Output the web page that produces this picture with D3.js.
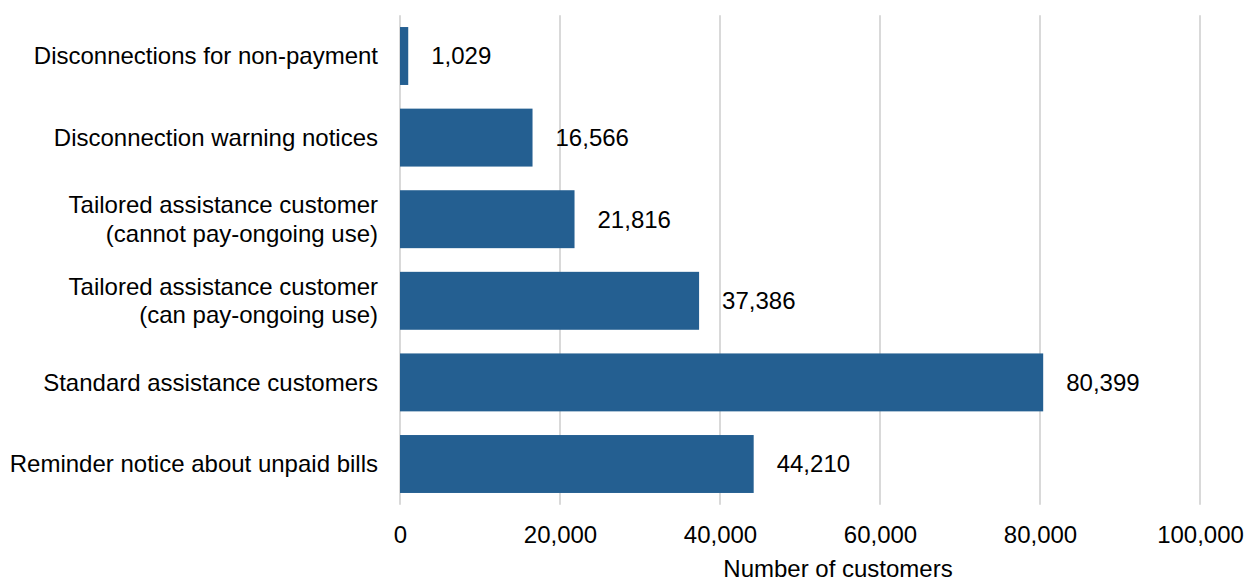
<!DOCTYPE html>
<html>
<head>
<meta charset="utf-8">
<script src="https://cdn.jsdelivr.net/npm/d3@7"></script>
<style>
  html, body { margin: 0; padding: 0; background: #fff; }
  svg text { font-family: "Liberation Sans", Arial, sans-serif; fill: #000; }
</style>
</head>
<body>
<svg id="chart" width="1246" height="581"></svg>
<script>
const categories = [
  ["Disconnections for non-payment"],
  ["Disconnection warning notices"],
  ["Tailored assistance customer", "(cannot pay-ongoing use)"],
  ["Tailored assistance customer", "(can pay-ongoing use)"],
  ["Standard assistance customers"],
  ["Reminder notice about unpaid bills"]
];
const values = [1029, 16566, 21816, 37386, 80399, 44210];
const xTicks = [0, 20000, 40000, 60000, 80000, 100000];
const xTitle = "Number of customers";

(function () {
const svg = d3.select("#chart");
const pLeft = 400, pRight = 1200, pTop = 15.2, pBottom = 504.8;
const fs = 24;

const x = d3.scaleLinear().domain([0, 100000]).range([pLeft, pRight]);
const y = d3.scaleBand().domain(d3.range(categories.length)).range([pTop, pBottom]).paddingInner(0.29).paddingOuter(0.145);

// gridlines
svg.append("g").selectAll("line").data(xTicks).join("line")
  .attr("x1", d => x(d)).attr("x2", d => x(d))
  .attr("y1", pTop).attr("y2", pBottom)
  .attr("stroke", "#d9d9d9").attr("stroke-width", 2);

// bars
svg.append("g").selectAll("rect").data(values).join("rect")
  .attr("x", x(0)).attr("y", (d, i) => y(i))
  .attr("width", d => x(d) - x(0)).attr("height", y.bandwidth())
  .attr("fill", "#245f91");

// value labels
const fmt = d3.format(",");
svg.append("g").selectAll("text").data(values).join("text")
  .attr("x", d => x(d) + 23).attr("y", (d, i) => y(i) + y.bandwidth() / 2)
  .attr("dy", "0.35em").attr("font-size", fs)
  .text(d => fmt(d));

// category labels
const cat = svg.append("g").selectAll("text").data(categories).join("text")
  .attr("text-anchor", "end").attr("font-size", fs)
  .attr("x", pLeft - 22)
  .attr("y", (d, i) => y(i) + y.bandwidth() / 2);
cat.each(function(lines) {
  const t = d3.select(this);
  const lh = 28.5;
  const start = -(lines.length - 1) * lh / 2;
  lines.forEach((ln, k) => {
    t.append("tspan").attr("x", pLeft - 22).attr("dy", k === 0 ? (start + fs * 0.35) : lh).text(ln);
  });
});

// x axis
const xAxis = d3.axisBottom(x).tickValues(xTicks).tickFormat(fmt).tickSize(0).tickPadding(0);
const gx = svg.append("g").attr("transform", `translate(0,${pBottom})`).call(xAxis);
gx.select(".domain").remove();
gx.selectAll("text").attr("font-size", fs).attr("dy", null).attr("y", 38)
  .style("font-family", '"Liberation Sans", Arial, sans-serif').attr("fill", "#000");

svg.append("text").attr("x", 838).attr("y", 577).attr("text-anchor", "middle")
  .attr("font-size", fs).text(xTitle);
})();
</script>
</body>
</html>
